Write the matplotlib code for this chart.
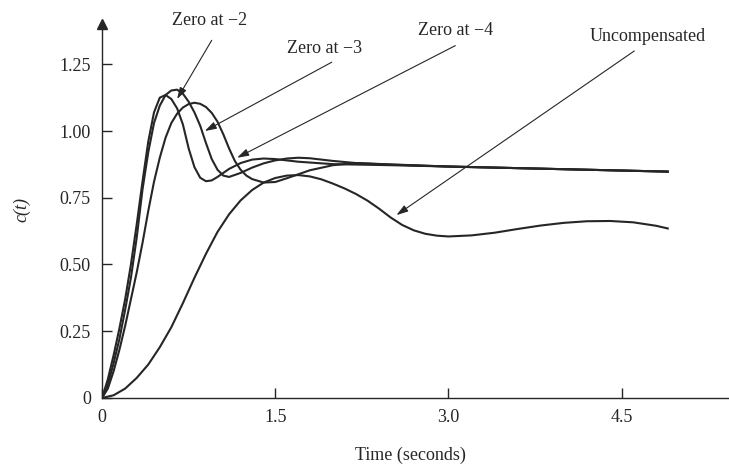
import matplotlib
matplotlib.use("Agg")
import matplotlib.pyplot as plt

# ---------------- data ----------------
t_z2 = [0, 0.05, 0.1, 0.15, 0.2, 0.25, 0.3, 0.35, 0.4, 0.45, 0.5, 0.55, 0.6, 0.65,
        0.7, 0.75, 0.8, 0.85, 0.9, 0.95, 1.0, 1.1, 1.2, 1.3, 1.4, 1.5, 1.7, 2.0,
        2.5, 3.0, 3.5, 4.0, 4.5, 4.9]
c_z2 = [0, 0.07, 0.16, 0.26, 0.37, 0.50, 0.65, 0.81, 0.96, 1.07, 1.125, 1.135, 1.12, 1.085,
        1.025, 0.935, 0.865, 0.825, 0.812, 0.815, 0.828, 0.858, 0.88, 0.893, 0.897, 0.895, 0.885, 0.876,
        0.872, 0.867, 0.862, 0.857, 0.852, 0.848]

t_z3 = [0, 0.05, 0.1, 0.15, 0.2, 0.25, 0.3, 0.35, 0.4, 0.45, 0.5, 0.55, 0.6, 0.65,
        0.7, 0.75, 0.8, 0.85, 0.9, 0.95, 1.0, 1.05, 1.1, 1.2, 1.3, 1.4, 1.5, 1.6,
        1.7, 1.8, 2.0, 2.2, 2.5, 3.0, 3.5, 4.0, 4.5, 4.9]
c_z3 = [0, 0.05, 0.13, 0.22, 0.33, 0.45, 0.60, 0.78, 0.92, 1.03, 1.095, 1.135, 1.152, 1.155,
        1.14, 1.11, 1.07, 1.02, 0.955, 0.895, 0.855, 0.833, 0.828, 0.843, 0.863, 0.879, 0.89, 0.897,
        0.90, 0.898, 0.888, 0.88, 0.874, 0.867, 0.862, 0.857, 0.852, 0.848]

t_z4 = [0, 0.05, 0.1, 0.15, 0.2, 0.25, 0.3, 0.35, 0.4, 0.45, 0.5, 0.55, 0.6, 0.65,
        0.7, 0.75, 0.8, 0.85, 0.9, 0.95, 1.0, 1.05, 1.1, 1.15, 1.2, 1.25, 1.3, 1.4, 1.5,
        1.6, 1.8, 2.0, 2.2, 2.5, 3.0, 3.5, 4.0, 4.5, 4.9]
c_z4 = [0, 0.035, 0.10, 0.18, 0.27, 0.37, 0.47, 0.58, 0.70, 0.81, 0.90, 0.975, 1.03, 1.065,
        1.088, 1.101, 1.106, 1.102, 1.09, 1.068, 1.035, 0.988, 0.935, 0.888, 0.855, 0.833, 0.82, 0.807, 0.809,
        0.823, 0.853, 0.872, 0.88, 0.875, 0.867, 0.862, 0.857, 0.852, 0.848]

t_unc = [0, 0.1, 0.2, 0.3, 0.4, 0.5, 0.6, 0.7, 0.8, 0.9, 1.0, 1.1, 1.2, 1.3, 1.4, 1.5,
         1.6, 1.7, 1.8, 1.9, 2.0, 2.1, 2.2, 2.3, 2.4, 2.5, 2.6, 2.7, 2.8, 2.9, 3.0,
         3.2, 3.4, 3.6, 3.8, 4.0, 4.2, 4.4, 4.6, 4.8, 4.9]
c_unc = [0, 0.01, 0.035, 0.075, 0.125, 0.19, 0.265, 0.355, 0.45, 0.54, 0.622, 0.688, 0.74, 0.779, 0.807, 0.824,
         0.833, 0.835, 0.83, 0.819, 0.803, 0.785, 0.764, 0.739, 0.709, 0.676, 0.648, 0.628, 0.615, 0.608, 0.605,
         0.609, 0.619, 0.633, 0.646, 0.656, 0.662, 0.663, 0.658, 0.645, 0.635]

x_ticks = [0, 1.5, 3.0, 4.5]
x_tick_labels = ["0", "1.5", "3.0", "4.5"]
y_ticks = [0, 0.25, 0.5, 0.75, 1.0, 1.25]
y_tick_labels = ["0", "0.25", "0.50", "0.75", "1.00", "1.25"]

labels = ["Zero at \u22122", "Zero at \u22123", "Zero at \u22124", "Uncompensated"]
label_pos = [(0.935, 1.416), (1.93, 1.31), (3.06, 1.378), (4.73, 1.356)]
arrow_start = [(0.95, 1.34), (1.99, 1.258), (3.06, 1.32), (4.61, 1.30)]
arrow_tip = [(0.65, 1.12), (0.89, 1.0), (1.17, 0.90), (2.55, 0.685)]

# ---------------- figure ----------------
plt.rcParams['font.family'] = ['Liberation Serif', 'DejaVu Serif']
fig = plt.figure(figsize=(7.29, 4.76), dpi=100)
ax = fig.add_axes([0.14, 0.164, 0.871, 0.785])
ax.set_xlim(0, 5.5)
ax.set_ylim(0, 1.4)

ink = '#262626'
for t, c in [(t_z2, c_z2), (t_z3, c_z3), (t_z4, c_z4), (t_unc, c_unc)]:
    ax.plot(t, c, color=ink, lw=1.5, solid_joinstyle='round')

for s in ['top', 'right']:
    ax.spines[s].set_visible(False)
for s in ['left', 'bottom']:
    ax.spines[s].set_color(ink)
    ax.spines[s].set_linewidth(1.0)

ax.plot(1, 0, marker='>', color=ink, ms=7, transform=ax.transAxes, clip_on=False)
ax.plot(0, 1, marker='^', color=ink, ms=7, transform=ax.transAxes, clip_on=False)

ax.set_xticks(x_ticks)
ax.set_xticklabels(x_tick_labels)
ax.set_yticks(y_ticks)
ax.set_yticklabels(y_tick_labels)
ax.tick_params(direction='in', length=7, width=1.0, color=ink, labelsize=13,
               labelcolor=ink)
ax.tick_params(axis='x', pad=8)
ax.tick_params(axis='y', pad=8)

for lab, (tx, ty), (sx, sy), (ex, ey) in zip(labels, label_pos, arrow_start, arrow_tip):
    ax.text(tx, ty, lab, ha='center', va='center', fontsize=13, color=ink,
            clip_on=False)
    ax.annotate('', xy=(ex, ey), xytext=(sx, sy), annotation_clip=False,
                arrowprops=dict(arrowstyle='-|>,head_length=0.7,head_width=0.22',
                                color=ink, lw=0.8, shrinkA=0, shrinkB=0))

fig.text(410 / 729, 1 - 455 / 476, "Time (seconds)", ha='center', va='center',
         fontsize=13, color=ink)
fig.text(22 / 729, 1 - 210 / 476, "c(t)", ha='center', va='center', rotation=90,
         fontsize=13, style='italic', color=ink)

fig.savefig("out.png", dpi=100, facecolor='white')
